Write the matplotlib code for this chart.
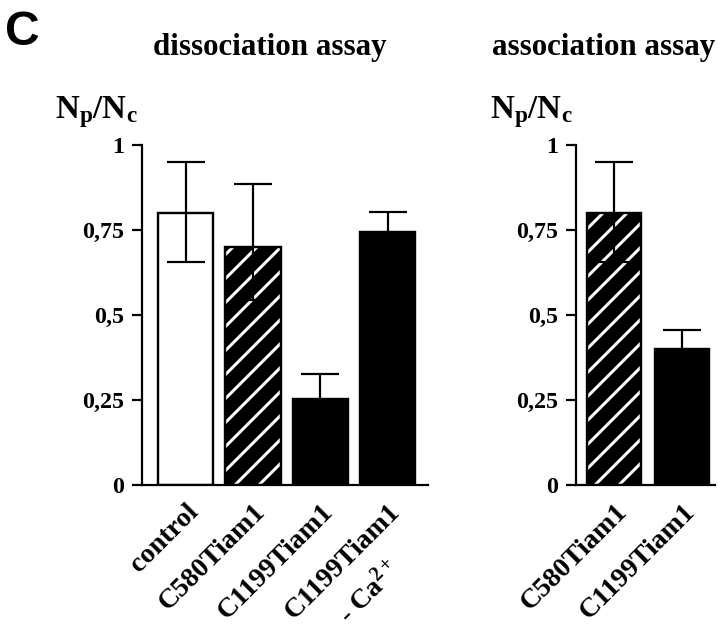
import numpy as np
import matplotlib
matplotlib.use("Agg")
from matplotlib import pyplot as plt

# values (Np/Nc ratios)
diss_labels = ['control', 'C580Tiam1', 'C1199Tiam1', 'C1199Tiam1']
diss_sublabels = ['', '', '', '- Ca$^{2+}$']
diss_values = [0.80, 0.70, 0.253, 0.744]
diss_err_lo = [0.144, 0.156, 0.073, 0.06]
diss_err_hi = [0.150, 0.185, 0.073, 0.06]

assoc_labels = ['C580Tiam1', 'C1199Tiam1']
assoc_sublabels = ['', '']
assoc_values = [0.80, 0.40]
assoc_err_lo = [0.144, 0.056]
assoc_err_hi = [0.150, 0.056]

yticks = [0, 0.25, 0.5, 0.75, 1]
yticklabels = ['0', '0,25', '0,5', '0,75', '1']

plt.rcParams['font.family'] = 'Liberation Serif'
plt.rcParams['font.weight'] = 'bold'
plt.rcParams['mathtext.fontset'] = 'custom'
plt.rcParams['mathtext.rm'] = 'Liberation Serif:bold'
plt.rcParams['mathtext.bf'] = 'Liberation Serif:bold'
plt.rcParams['mathtext.it'] = 'Liberation Serif:bold'
plt.rcParams['hatch.linewidth'] = 1.5


def draw_panel(ax, labels, sublabels, values, lo, hi, width):
    x = np.arange(len(labels))
    for i, lab in enumerate(labels):
        if lab == 'control':
            ax.bar(x[i], values[i], width, color='white', edgecolor='black', linewidth=1.2, zorder=2)
        elif 'C580' in lab:
            ax.bar(x[i], values[i], width, color='black', edgecolor='white', hatch='//', linewidth=0, zorder=2)
            ax.bar(x[i], values[i], width, fill=False, edgecolor='black', linewidth=1.2, zorder=2)
        else:
            ax.bar(x[i], values[i], width, color='black', edgecolor='black', linewidth=1.2, zorder=2)
    ax.errorbar(x, values, yerr=[lo, hi], fmt='none', ecolor='black', elinewidth=1.1,
                capsize=9.5, capthick=1.1, zorder=3)
    ax.set_ylim(0, 1)
    ax.set_yticks(yticks)
    ax.set_yticklabels(yticklabels, fontsize=12, fontweight='bold')
    ax.set_xticks(x)
    ax.set_xticklabels(labels, rotation=45, ha='right', va='top', rotation_mode='anchor',
                       fontsize=14, fontweight='bold')
    # second line under a tick label
    for i, sub in enumerate(sublabels):
        if sub:
            ax.annotate(sub, xy=(x[i], 0), xycoords='data', xytext=(-0.5, -35),
                        textcoords='offset points', rotation=45, ha='right', va='top',
                        rotation_mode='anchor', fontsize=14, fontweight='bold',
                        annotation_clip=False)
    ax.tick_params(axis='y', direction='out', length=5, width=1.1, pad=4)
    ax.tick_params(axis='x', length=0, pad=7)
    for s in ['top', 'right']:
        ax.spines[s].set_visible(False)
    for s in ['left', 'bottom']:
        ax.spines[s].set_linewidth(1.1)


fig = plt.figure(figsize=(5.0, 634 / 144.0), dpi=144)

ax1 = fig.add_axes([142 / 720, 149 / 634, 286 / 720, 340 / 634])
draw_panel(ax1, diss_labels, diss_sublabels, diss_values, diss_err_lo, diss_err_hi, 0.82)
ax1.set_xlim(-0.65, 3.6)

ax2 = fig.add_axes([576 / 720, 149 / 634, 139 / 720, 340 / 634])
draw_panel(ax2, assoc_labels, assoc_sublabels, assoc_values, assoc_err_lo, assoc_err_hi, 0.79)
ax2.set_xlim(-0.56, 1.48)

fig.text(5 / 720, 1 - 45 / 634, 'C', fontsize=24, fontweight='bold', family='Liberation Sans',
         va='baseline', ha='left')
fig.text(270 / 720, 1 - 55 / 634, 'dissociation assay', fontsize=15.5, fontweight='bold',
         ha='center', va='baseline')
fig.text(604 / 720, 1 - 55 / 634, 'association assay', fontsize=15.5, fontweight='bold',
         ha='center', va='baseline')
for xpos in [55, 490]:
    fig.text(xpos / 720, 1 - 118 / 634, r'N$_{\mathbf{p}}$/N$_{\mathbf{c}}$', fontsize=16.5,
             fontweight='bold', ha='left', va='baseline')

fig.savefig('out.png', dpi=144)
